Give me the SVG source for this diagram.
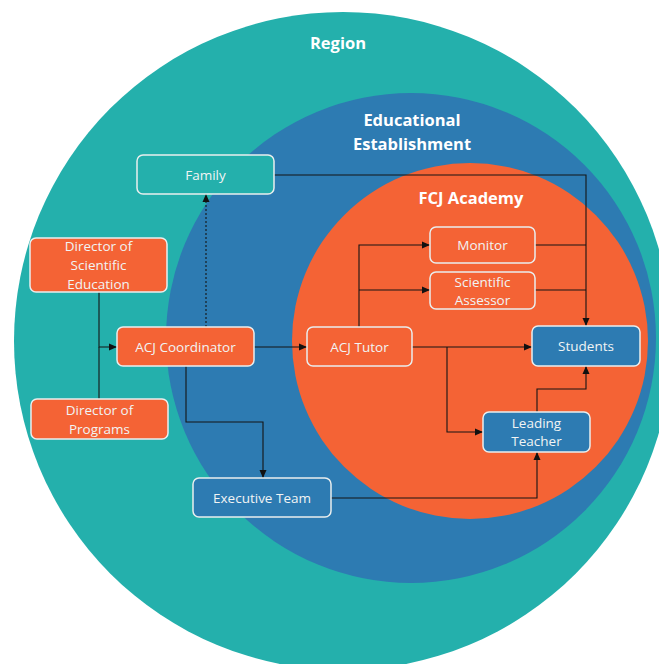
<svg xmlns="http://www.w3.org/2000/svg" width="659" height="664" viewBox="0 0 659 664">
  <defs>
    <marker id="arrow" markerWidth="8" markerHeight="8" refX="8" refY="4" orient="auto" markerUnits="userSpaceOnUse">
      <path d="M0,0.5 L8,4 L0,7.5 z" fill="#111"/>
    </marker>
    <style>
      .zone-title { font-family: "Open Sans", "Liberation Sans", sans-serif; font-weight: bold; font-size: 16.5px; fill: #ffffff; text-anchor: middle; }
      .box { stroke: #e9eeee; stroke-width: 1.5; }
      .teal { fill: #24b0ac; }
      .blue { fill: #2d7bb2; }
      .orange { fill: #f46335; }
      .label { font-family: "Open Sans", "Liberation Sans", sans-serif; font-size: 13.5px; fill: #f1f4f4; text-anchor: middle; }
      .link { fill: none; stroke: #151515; stroke-width: 1.1; }
      .dotted { stroke-dasharray: 2 2; }
    </style>
  </defs>

  <!-- nested areas -->
  <g id="region">
    <circle cx="343" cy="341" r="329" class="teal"/>
    <text x="338" y="49" class="zone-title">Region</text>
  </g>
  <g id="establishment">
    <circle cx="411" cy="338" r="245" class="blue"/>
    <text x="412" y="126" class="zone-title">Educational</text>
    <text x="412" y="150" class="zone-title">Establishment</text>
  </g>
  <g id="academy">
    <circle cx="470" cy="341" r="178" class="orange"/>
    <text x="471" y="204" class="zone-title">FCJ Academy</text>
  </g>

  <!-- connectors -->
  <g id="connectors">
    <path class="link" d="M274,175 H586 V326" marker-end="url(#arrow)"/>
    <path class="link" d="M535,245 H586"/>
    <path class="link" d="M535,290 H586"/>
    <path class="link dotted" d="M206,327 V194" marker-end="url(#arrow)"/>
    <path class="link" d="M99,292 V347 H117" marker-end="url(#arrow)"/>
    <path class="link" d="M99,399 V347"/>
    <path class="link" d="M254,347 H307" marker-end="url(#arrow)"/>
    <path class="link" d="M359,327 V245 H430" marker-end="url(#arrow)"/>
    <path class="link" d="M359,290 H430" marker-end="url(#arrow)"/>
    <path class="link" d="M412,347 H532" marker-end="url(#arrow)"/>
    <path class="link" d="M447,347 V432 H483" marker-end="url(#arrow)"/>
    <path class="link" d="M537,412 V389 H586 V366" marker-end="url(#arrow)"/>
    <path class="link" d="M186,366 V422 H263 V478" marker-end="url(#arrow)"/>
    <path class="link" d="M331,498 H537 V452" marker-end="url(#arrow)"/>
  </g>

  <!-- nodes -->
  <g id="family">
    <rect x="137" y="155" width="137" height="39" rx="6" class="box teal"/>
    <text x="205.5" y="179.5" class="label">Family</text>
  </g>
  <g id="director-scientific-education">
    <rect x="30" y="238" width="137" height="54" rx="6" class="box orange"/>
    <text x="98.5" y="251" class="label">Director of</text>
    <text x="98.5" y="270" class="label">Scientific</text>
    <text x="98.5" y="289" class="label">Education</text>
  </g>
  <g id="director-programs">
    <rect x="31" y="399" width="137" height="40" rx="6" class="box orange"/>
    <text x="99.5" y="415" class="label">Director of</text>
    <text x="99.5" y="434" class="label">Programs</text>
  </g>
  <g id="acj-coordinator">
    <rect x="117" y="327" width="137" height="39" rx="6" class="box orange"/>
    <text x="185.5" y="351.5" class="label">ACJ Coordinator</text>
  </g>
  <g id="acj-tutor">
    <rect x="307" y="327" width="105" height="39" rx="6" class="box orange"/>
    <text x="359.5" y="351.5" class="label">ACJ Tutor</text>
  </g>
  <g id="monitor">
    <rect x="430" y="227" width="105" height="36" rx="6" class="box orange"/>
    <text x="482.5" y="249.5" class="label">Monitor</text>
  </g>
  <g id="scientific-assessor">
    <rect x="430" y="272" width="105" height="37" rx="6" class="box orange"/>
    <text x="482.5" y="286.5" class="label">Scientific</text>
    <text x="482.5" y="304.5" class="label">Assessor</text>
  </g>
  <g id="students">
    <rect x="532" y="326" width="108" height="40" rx="6" class="box blue"/>
    <text x="586" y="350.5" class="label">Students</text>
  </g>
  <g id="leading-teacher">
    <rect x="483" y="412" width="107" height="40" rx="6" class="box blue"/>
    <text x="536.5" y="427.5" class="label">Leading</text>
    <text x="536.5" y="445.5" class="label">Teacher</text>
  </g>
  <g id="executive-team">
    <rect x="193" y="478" width="138" height="39" rx="6" class="box blue"/>
    <text x="262" y="502.5" class="label">Executive Team</text>
  </g>
</svg>
